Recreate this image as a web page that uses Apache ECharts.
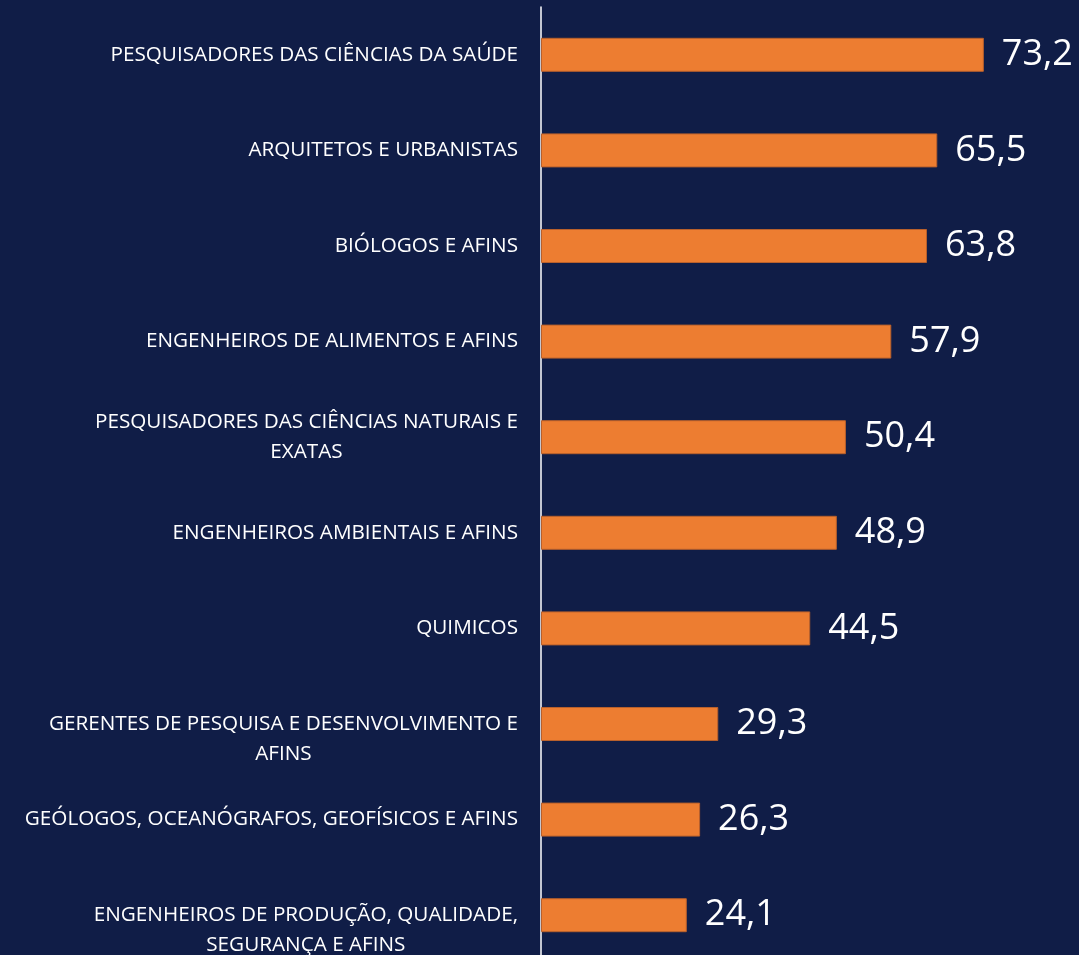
<!DOCTYPE html>
<html>
<head>
<meta charset="utf-8">
<script src="https://cdn.jsdelivr.net/npm/echarts@6/dist/echarts.min.js"></script>
<style>
	html, body { margin: 0; padding: 0; background: #101d47; overflow: hidden; }
	#chart { width: 1079px; height: 963px; }
</style>
</head>
<body>
<div id="chart"></div>
<script>
// categorias (de cima para baixo)
var categorias = [
	'PESQUISADORES DAS CIÊNCIAS DA SAÚDE',
	'ARQUITETOS E URBANISTAS',
	'BIÓLOGOS E AFINS',
	'ENGENHEIROS DE ALIMENTOS E AFINS',
	'PESQUISADORES DAS CIÊNCIAS NATURAIS E\nEXATAS',
	'ENGENHEIROS AMBIENTAIS E AFINS',
	'QUIMICOS',
	'GERENTES DE PESQUISA E DESENVOLVIMENTO E\nAFINS',
	'GEÓLOGOS, OCEANÓGRAFOS, GEOFÍSICOS E AFINS',
	'ENGENHEIROS DE PRODUÇÃO, QUALIDADE,\nSEGURANÇA E AFINS'
];
var valores = [73.2, 65.5, 63.8, 57.9, 50.4, 48.9, 44.5, 29.3, 26.3, 24.1];

var dom = document.getElementById('chart');
var myChart = echarts.init(dom);

// alguns rotulos de duas linhas comecam na altura da barra
var descer = [7, 9];
var eixoDados = categorias.map(function (c, i) {
	if (descer.indexOf(i) >= 0) {
		return { value: c, textStyle: { padding: [30, 0, 0, 0] } };
	}
	return c;
});

var option = {
	backgroundColor: '#101d47',
	animation: false,
	grid: {
		left: 541,
		right: 54,
		top: 7,
		bottom: 0,
		containLabel: false
	},
	xAxis: {
		type: 'value',
		min: 0,
		max: 80,
		show: false
	},
	yAxis: {
		type: 'category',
		inverse: true,
		data: eixoDados,
		axisLine: { show: true, lineStyle: { color: '#ffffff', width: 1.5 } },
		axisTick: { show: false },
		axisLabel: {
			margin: 23,
			color: '#ffffff',
			fontFamily: 'Open Sans',
			fontSize: 20.7,
			lineHeight: 30,
			formatter: function (v) {
				return v.split('\n').map(function (l) { return '{c|' + l + '}'; }).join('\n');
			},
			rich: {
				c: {
					align: 'center',
					color: '#ffffff',
					fontFamily: 'Open Sans',
					fontSize: 20.7,
					lineHeight: 30
				}
			}
		}
	},
	series: [{
		type: 'bar',
		data: valores,
		barWidth: 34,
		itemStyle: {
			color: '#ed7d31',
			borderColor: '#b8602c',
			borderWidth: 1
		},
		label: {
			show: true,
			position: 'right',
			distance: 18,
			color: '#ffffff',
			fontFamily: 'Open Sans',
			fontSize: 36,
			formatter: function (p) {
				return p.value.toFixed(1).replace('.', ',');
			}
		}
	}]
};
myChart.setOption(option);
</script>
</body>
</html>
